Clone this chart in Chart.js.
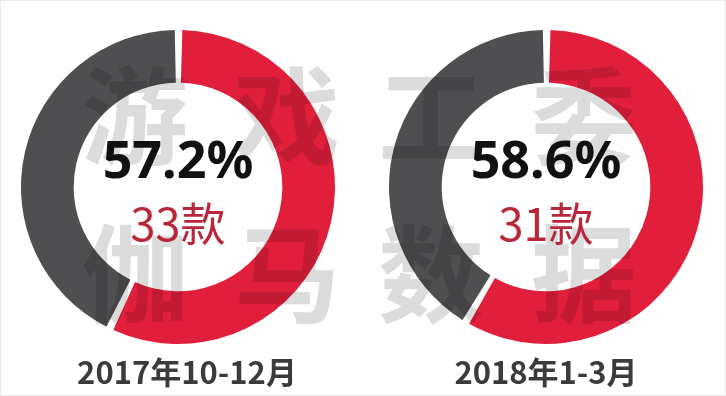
<!DOCTYPE html>
<html>
<head>
<meta charset="utf-8">
<script src="https://cdn.jsdelivr.net/npm/chart.js@4"></script>
<style>
    html, body { margin: 0; padding: 0; background: #fff; }
    #page {
        position: relative;
        width: 724px;
        height: 394px;
        border: 1px solid #ececec;
        overflow: hidden;
        font-family: "Noto Sans CJK SC", "Noto Sans", sans-serif;
    }
    .donut { position: absolute; top: 26px; width: 320px; height: 320px; }
    #watermark {
        position: absolute; left: 0; top: 0; width: 100%; height: 100%;
        mix-blend-mode: multiply; pointer-events: none;
    }
    #watermark span {
        position: absolute; width: 130px; margin-left: -65px; text-align: center;
        font-size: 106px; font-weight: 700; color: #dcdcdc; line-height: 1;
    }
    .centro { position: absolute; width: 200px; margin-left: -100px; text-align: center; }
    .pct { top: 131px; font-family: "Noto Sans", sans-serif; font-size: 52px; font-weight: 700; color: #111; line-height: 1; }
    .qtd { top: 198px; font-size: 45px; font-weight: 400; color: #b8283a; line-height: 1; }
    .periodo { top: 354px; font-size: 31px; font-weight: 700; color: #3b3b3b; line-height: 1; width: 300px; margin-left: -150px; }
</style>
</head>
<body>
<div id="page">
    <div class="donut" style="left:17px"><canvas id="donut0"></canvas></div>
    <div class="donut" style="left:385px"><canvas id="donut1"></canvas></div>
    <div id="watermark"></div>
    <div id="textos"></div>
</div>
<script>
const periodos = ["2017年10-12月", "2018年1-3月"];
const participacao = [57.2, 58.6];
const quantidade = [33, 31];
const categorias = ["占比", "其他"];
const cores = ["#e21f3b", "#4f4f51"];
const marcaDagua = ["游", "戏", "工", "委", "伽", "马", "数", "据"];

const centrosX = [177, 545];
const labelX = [186, 545];

function criarDonut(i) {
    const ctx = document.getElementById("donut" + i).getContext("2d");
    new Chart(ctx, {
        type: "doughnut",
        data: {
            labels: categorias,
            datasets: [
                {
                    data: [participacao[i], +(100 - participacao[i]).toFixed(1)],
                    backgroundColor: cores,
                    borderWidth: 0,
                    spacing: 4,
                },
            ],
        },
        options: {
            responsive: true,
            maintainAspectRatio: false,
            animation: false,
            cutout: "66%",
            layout: { padding: 3 },
            plugins: {
                legend: { display: false },
                tooltip: { enabled: false },
            },
        },
    });
}

function montarTextos() {
    const textos = document.getElementById("textos");
    periodos.forEach((p, i) => {
        textos.innerHTML +=
            `<div class="centro pct" style="left:${centrosX[i]}px">${participacao[i].toFixed(1)}%</div>` +
            `<div class="centro qtd" style="left:${centrosX[i]}px">${quantidade[i]}款</div>` +
            `<div class="centro periodo" style="left:${labelX[i]}px">${p}</div>`;
    });

    const wm = document.getElementById("watermark");
    const colunas = [134, 286, 430, 583];
    const linhas = [56, 214];
    marcaDagua.forEach((c, k) => {
        const x = colunas[k % 4];
        const y = linhas[Math.floor(k / 4)];
        wm.innerHTML += `<span style="left:${x}px;top:${y}px">${c}</span>`;
    });
}

criarDonut(0);
criarDonut(1);
montarTextos();
</script>
</body>
</html>
